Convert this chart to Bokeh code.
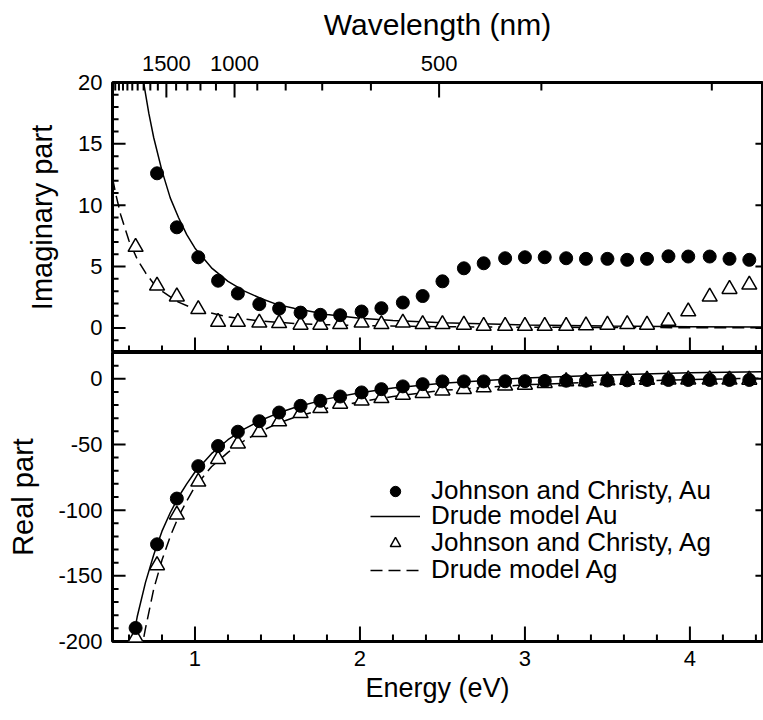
import math
from bokeh.plotting import figure
from bokeh.models import (Range1d, LinearAxis, FixedTicker, Legend, LegendItem,
                          NumeralTickFormatter)
from bokeh.layouts import column
from bokeh.embed import file_html
from bokeh.resources import INLINE

nan = float("nan")

# ---------------- data ----------------
# Johnson & Christy photon energies (eV)
energy_jc = [0.64, 0.77, 0.89, 1.02, 1.14, 1.26, 1.39, 1.51, 1.64, 1.76, 1.88,
             2.01, 2.13, 2.26, 2.38, 2.50, 2.63, 2.75, 2.88, 3.00, 3.12, 3.25,
             3.37, 3.50, 3.62, 3.74, 3.87, 3.99, 4.12, 4.24, 4.36]

au_imag_jc = [nan, 12.6, 8.2, 5.76, 3.85, 2.81, 1.94, 1.58, 1.25, 1.07, 1.04,
              1.34, 1.61, 2.07, 2.6, 3.8, 4.86, 5.27, 5.68, 5.76, 5.76, 5.68,
              5.63, 5.63, 5.55, 5.63, 5.84, 5.82, 5.82, 5.63, 5.55]
ag_imag_jc = [6.6, 3.44, 2.55, 1.53, 0.49, 0.49, 0.43, 0.38, 0.25, 0.25, 0.3,
              0.43, 0.3, 0.43, 0.3, 0.3, 0.25, 0.16, 0.16, 0.16, 0.16, 0.16,
              0.2, 0.25, 0.3, 0.25, 0.57, 1.34, 2.54, 3.17, 3.52]
au_real_jc = [-189.7, -126, -91.2, -66.5, -51.2, -40.3, -32.3, -25.7, -20.6,
              -16.8, -13.5, -10.4, -7.9, -5.8, -4.1, -2.0, -2.0, -2.0, -1.9,
              -1.8, -1.7, -1.5, -1.5, -1.3, -1.2, -0.9, -0.9, -0.9, -0.9, -0.9, -0.9]
ag_real_jc = [-197, -142, -103.5, -78.4, -61.2, -49.4, -40.6, -32.5, -26.2,
              -22.4, -19.1, -16.6, -14.8, -12.2, -10.9, -9.0, -7.9, -6.6, -5.3,
              -4.6, -3.3, -2.0, -2.0, -1.3, -0.8, -0.8, -0.6, -0.6, -0.6, -0.7, -0.8]

# Drude model curves
au_imag_drude_e = [0.68, 0.69, 0.70, 0.72, 0.75, 0.80, 0.85, 0.90, 0.95, 1.0, 1.1,
                   1.2, 1.3, 1.4, 1.5, 1.6, 1.8, 2.0, 2.2, 2.5, 3.0, 3.5, 4.0, 4.44]
au_imag_drude = [20.8, 19.9, 19.1, 17.5, 15.5, 12.8, 10.6, 9.0, 7.6, 6.5, 4.9,
                 3.8, 3.0, 2.4, 1.9, 1.6, 1.1, 0.8, 0.6, 0.42, 0.24, 0.15, 0.10, 0.07]
ag_imag_drude_e = [0.50, 0.52, 0.55, 0.60, 0.65, 0.70, 0.75, 0.80, 0.90, 1.0, 1.2,
                   1.4, 1.6, 1.8, 2.0, 2.5, 3.0, 3.5, 4.0, 4.44]
ag_imag_drude = [12.2, 10.9, 9.2, 7.1, 5.6, 4.5, 3.6, 3.0, 2.1, 1.53, 0.89,
                 0.56, 0.37, 0.26, 0.19, 0.10, 0.06, 0.04, 0.02, 0.02]
au_real_drude_e = [0.61, 0.65, 0.70, 0.75, 0.80, 0.85, 0.90, 0.95, 1.0, 1.1, 1.2,
                   1.3, 1.4, 1.5, 1.6, 1.8, 2.0, 2.2, 2.5, 3.0, 3.5, 4.0, 4.44]
au_real_drude = [-207, -181, -155, -134, -116, -102, -90, -80, -71, -57, -46.4,
                 -38.1, -31.6, -26.3, -22.0, -15.3, -10.6, -7.1, -3.4, 0.6, 2.9, 4.5, 5.4]
ag_real_drude_e = [0.67, 0.70, 0.75, 0.80, 0.85, 0.90, 0.95, 1.0, 1.1, 1.2, 1.3,
                   1.4, 1.5, 1.6, 1.8, 2.0, 2.2, 2.5, 3.0, 3.5, 4.0, 4.44]
ag_real_drude = [-210, -190, -160, -138, -120, -105, -93, -82, -67, -56, -47,
                 -40, -34, -29.5, -22.5, -17.5, -13.5, -8.8, -4.6, -2.2, -0.6, 0.5]

# ---------------- ticks ----------------
energy_major = [1, 2, 3, 4]
energy_minor = [0.6, 0.8, 1.2, 1.4, 1.6, 1.8, 2.2, 2.4, 2.6, 2.8,
                3.2, 3.4, 3.6, 3.8, 4.2, 4.4]
imag_major = [0, 5, 10, 15, 20]
imag_minor = [-2, -1, 1, 2, 3, 4, 6, 7, 8, 9, 11, 12, 13, 14, 16, 17, 18, 19]
real_major = [-200, -150, -100, -50, 0]
real_minor = [-190, -180, -170, -160, -140, -130, -120, -110, -90, -80, -70, -60,
              -40, -30, -20, -10, 10, 20]
wavelength_major = [1500, 1000, 500]
wavelength_minor = [2400, 2300, 2200, 2100, 2000, 1900, 1800, 1700, 1600,
                    1400, 1300, 1200, 1100, 900, 800, 700, 600, 400, 300]
HC = 1239.84  # eV*nm, converts wavelength to photon energy

legend_labels = ["Johnson and Christy, Au", "Drude model Au",
                 "Johnson and Christy, Ag", "Drude model Ag"]

FONT = "Liberation Sans"
TICK_FS = "22px"
X_RANGE = (0.5, 4.44)
IM_RANGE = (-2, 20)
RE_RANGE = (-200, 20)
TICK_COLOR = "black"


def inner_edge(rng, side):
    # a hair inside the frame edge, so the tick marks are not culled
    eps = (rng[1] - rng[0]) * 1e-4
    return rng[0] + eps if side == 0 else rng[1] - eps


def style(ax, label_standoff, title_fs, title_standoff):
    ax.axis_line_color = None
    ax.major_tick_in = 0
    ax.major_tick_out = 0
    ax.minor_tick_in = 0
    ax.minor_tick_out = 0
    ax.major_tick_line_color = None
    ax.minor_tick_line_color = None
    ax.major_label_text_font = FONT
    ax.major_label_text_font_size = TICK_FS
    ax.major_label_text_color = "black"
    ax.major_label_standoff = label_standoff
    ax.axis_label_text_font = FONT
    ax.axis_label_text_font_style = "normal"
    ax.axis_label_text_font_size = title_fs
    ax.axis_label_text_color = "black"
    ax.axis_label_standoff = title_standoff


def base_fig(frame_h, yr, top, bottom):
    p = figure(frame_width=650, frame_height=frame_h,
               x_range=Range1d(*X_RANGE), y_range=Range1d(*yr),
               output_backend="svg", toolbar_location=None,
               x_axis_location=None, y_axis_location=None,
               min_border_left=112, min_border_right=1,
               min_border_top=top, min_border_bottom=bottom)
    p.grid.visible = False
    p.outline_line_color = "black"
    p.outline_line_width = 3
    p.background_fill_color = "white"
    p.border_fill_color = "white"
    return p


def ticks_on_x_edge(p, xs, y_edge, length):
    # a dash centred on the frame edge; the half outside the frame is clipped
    p.scatter(xs, [y_edge] * len(xs), marker="dash", size=2 * length,
              angle=math.pi / 2, line_color=TICK_COLOR, line_width=2)


def ticks_on_y_edge(p, ys, x_edge, length):
    p.scatter([x_edge] * len(ys), ys, marker="dash", size=2 * length,
              angle=0, line_color=TICK_COLOR, line_width=2)


# ---------------- top panel: imaginary part ----------------
p1 = base_fig(270, IM_RANGE, 82, 0)

ax = LinearAxis(ticker=FixedTicker(ticks=imag_major), axis_label="Imaginary part")
style(ax, 10, "29px", 17)
p1.add_layout(ax, "left")

wl_major_e = [HC / w for w in wavelength_major]
wl_minor_e = [HC / w for w in wavelength_minor]
ax = LinearAxis(ticker=FixedTicker(ticks=wl_major_e), axis_label="Wavelength (nm)",
                major_label_overrides={e: str(w) for e, w in zip(wl_major_e, wavelength_major)})
style(ax, 12, "30px", 12)
p1.add_layout(ax, "above")

ticks_on_y_edge(p1, imag_major, inner_edge(X_RANGE, 0), 13)
ticks_on_y_edge(p1, imag_minor, inner_edge(X_RANGE, 0), 6)
ticks_on_y_edge(p1, imag_major, inner_edge(X_RANGE, 1), 7)
ticks_on_x_edge(p1, energy_major, inner_edge(IM_RANGE, 0), 15)
ticks_on_x_edge(p1, energy_minor, inner_edge(IM_RANGE, 0), 7)
ticks_on_x_edge(p1, wl_major_e, inner_edge(IM_RANGE, 1), 15)
ticks_on_x_edge(p1, wl_minor_e, inner_edge(IM_RANGE, 1), 8)

p1.line(au_imag_drude_e, au_imag_drude, line_color="black", line_width=1.5)
p1.line(ag_imag_drude_e, ag_imag_drude, line_color="black", line_width=1.5,
        line_dash="12 6")
p1.scatter(energy_jc, ag_imag_jc, marker="triangle", size=15,
           fill_color="white", line_color="black", line_width=1.5)
p1.scatter(energy_jc, au_imag_jc, marker="circle", size=13,
           fill_color="black", line_color="black")

# ---------------- bottom panel: real part ----------------
p2 = base_fig(289, RE_RANGE, 0, 70)

ax = LinearAxis(ticker=FixedTicker(ticks=real_major), axis_label="Real part",
                formatter=NumeralTickFormatter(format="0"))
style(ax, 10, "29px", 16)
p2.add_layout(ax, "left")

ax = LinearAxis(ticker=FixedTicker(ticks=energy_major), axis_label="Energy (eV)")
style(ax, 9, "27px", 4)
p2.add_layout(ax, "below")

ticks_on_y_edge(p2, real_major, inner_edge(X_RANGE, 0), 13)
ticks_on_y_edge(p2, real_minor, inner_edge(X_RANGE, 0), 6)
ticks_on_y_edge(p2, real_major, inner_edge(X_RANGE, 1), 7)
ticks_on_x_edge(p2, energy_major, inner_edge(RE_RANGE, 0), 15)
ticks_on_x_edge(p2, energy_minor, inner_edge(RE_RANGE, 0), 7)

r_au_line = p2.line(au_real_drude_e, au_real_drude, line_color="black", line_width=1.5)
r_ag_line = p2.line(ag_real_drude_e, ag_real_drude, line_color="black", line_width=1.5,
                    line_dash="12 6")
r_ag = p2.scatter(energy_jc, ag_real_jc, marker="triangle", size=15,
                  fill_color="white", line_color="black", line_width=1.5)
r_au = p2.scatter(energy_jc, au_real_jc, marker="circle", size=13,
                  fill_color="black", line_color="black")

# one single-row legend per entry, so the rows can sit as tightly as in the reference
legend_renderers = [r_au, r_au_line, r_ag, r_ag_line]
legend_bottoms = [135, 110, 83, 56]
for lab, rend, yb in zip(legend_labels, legend_renderers, legend_bottoms):
    lg = Legend(items=[LegendItem(label=lab, renderers=[rend])], location=(258, yb))
    lg.label_text_font = FONT
    lg.label_text_font_size = "26px"
    lg.label_text_color = "black"
    lg.glyph_width = 50
    lg.glyph_height = 26
    lg.label_height = 26
    lg.label_standoff = 11
    lg.spacing = 0
    lg.padding = 0
    lg.margin = 0
    lg.border_line_color = None
    lg.background_fill_alpha = 0
    p2.add_layout(lg, "center")

layout = column(p1, p2, spacing=0)

with open("out.html", "w") as f:
    f.write(file_html(layout, INLINE))
